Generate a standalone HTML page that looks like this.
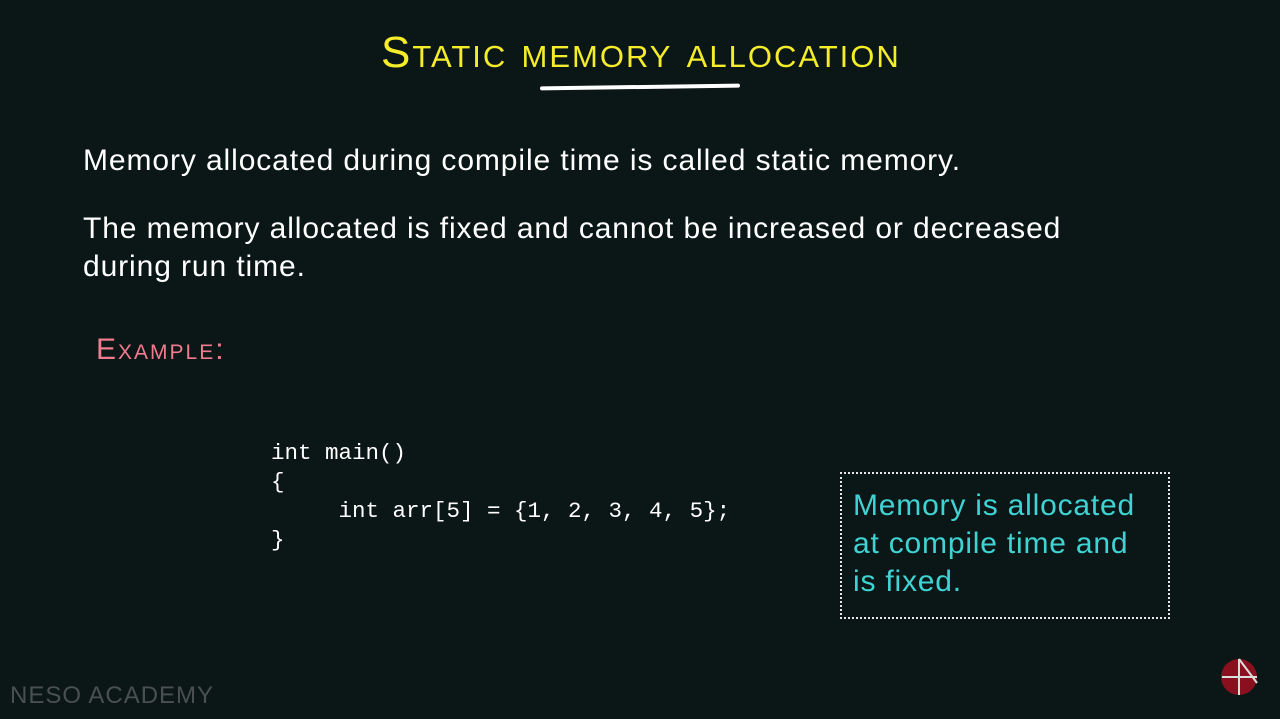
<!DOCTYPE html>
<html><head><style>
body{margin:0;width:1280px;height:719px;background:#0a1716;overflow:hidden;position:relative;font-family:"Liberation Sans",sans-serif}
.a{position:absolute;white-space:nowrap}
.t{color:#f5ec2a;font-size:44px;font-variant:small-caps;letter-spacing:2px;left:381px;top:28px}
.p{color:#fff;font-size:30px;left:83px;letter-spacing:0.9px}
.code{font-family:"Liberation Mono",monospace;color:#fff;font-size:22.5px;line-height:29px;left:271px;top:439px;white-space:pre}
.box{position:absolute;left:840px;top:472px;width:326px;height:143px;border:2px dotted #e8e8e8}
.bt{color:#3fd3d3;font-size:30px;line-height:38px;left:853px;top:487px;letter-spacing:0.8px}
</style></head><body>
<div class="a t">Static memory allocation</div>
<div class="a" style="left:540px;top:85px;width:200px;height:4px;background:#fff;border-radius:2px;transform:rotate(-0.8deg)"></div>
<div class="a p" style="top:144px">Memory allocated during compile time is called static memory.</div>
<div class="a p" style="top:212px">The memory allocated is fixed and cannot be increased or decreased</div>
<div class="a p" style="top:250px">during run time.</div>
<div class="a" style="left:96px;top:333px;color:#f07b8f;font-size:30px;font-variant:small-caps;letter-spacing:2px">Example:</div>
<div class="a code">int main()
{
     int arr[5] = {1, 2, 3, 4, 5};
}</div>
<div class="box"></div>
<div class="a bt">Memory is allocated<br>at compile time and<br>is fixed.</div>
<div class="a" style="left:10px;top:682px;color:#4a5050;font-size:24px;letter-spacing:1px">NESO ACADEMY</div>
<svg class="a" style="left:1220px;top:658px" width="40" height="40"><circle cx="19" cy="19" r="18" fill="#8a1020"/><path d="M2 19H37M19 1V37M19 1L37 25" stroke="#ddd" stroke-width="2" fill="none"/></svg>
</body></html>
